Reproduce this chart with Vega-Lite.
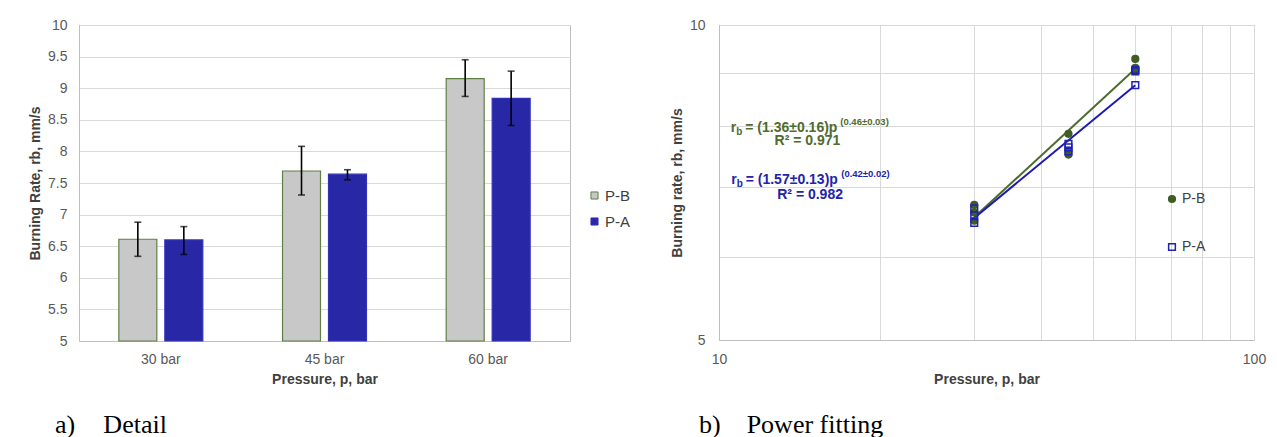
{
  "$schema": "https://vega.github.io/schema/vega-lite/v6.json",
  "background": "white",
  "padding": {"left": 28, "top": 17, "right": 0, "bottom": 0},
  "spacing": 37,
  "resolve": {
    "scale": {"fill": "independent", "stroke": "independent", "shape": "independent", "color": "independent"},
    "legend": {"fill": "independent", "stroke": "independent", "shape": "independent", "color": "independent"}
  },
  "datasets": {
    "bars": [
      {"pressure": "30 bar", "series": "P-B", "rate": 6.61, "lo": 6.34, "hi": 6.88},
      {"pressure": "30 bar", "series": "P-A", "rate": 6.60, "lo": 6.37, "hi": 6.81},
      {"pressure": "45 bar", "series": "P-B", "rate": 7.69, "lo": 7.31, "hi": 8.08},
      {"pressure": "45 bar", "series": "P-A", "rate": 7.64, "lo": 7.55, "hi": 7.71},
      {"pressure": "60 bar", "series": "P-B", "rate": 9.15, "lo": 8.87, "hi": 9.45},
      {"pressure": "60 bar", "series": "P-A", "rate": 8.84, "lo": 8.41, "hi": 9.27}
    ],
    "points": [
      {"p": 30, "rate": 6.73, "series": "P-B"},
      {"p": 30, "rate": 6.62, "series": "P-B"},
      {"p": 30, "rate": 6.50, "series": "P-B"},
      {"p": 45, "rate": 7.87, "series": "P-B"},
      {"p": 45, "rate": 7.58, "series": "P-B"},
      {"p": 45, "rate": 7.52, "series": "P-B"},
      {"p": 60, "rate": 9.28, "series": "P-B"},
      {"p": 60, "rate": 9.10, "series": "P-B"},
      {"p": 60, "rate": 9.05, "series": "P-B"},
      {"p": 30, "rate": 6.68, "series": "P-A"},
      {"p": 30, "rate": 6.58, "series": "P-A"},
      {"p": 30, "rate": 6.47, "series": "P-A"},
      {"p": 45, "rate": 7.70, "series": "P-A"},
      {"p": 45, "rate": 7.64, "series": "P-A"},
      {"p": 45, "rate": 7.57, "series": "P-A"},
      {"p": 60, "rate": 9.06, "series": "P-A"},
      {"p": 60, "rate": 9.03, "series": "P-A"},
      {"p": 60, "rate": 8.76, "series": "P-A"}
    ],
    "fits": [
      {"p": 30, "fit": 6.55, "series": "P-B"},
      {"p": 60, "fit": 9.08, "series": "P-B"},
      {"p": 30, "fit": 6.54, "series": "P-A"},
      {"p": 60, "fit": 8.76, "series": "P-A"}
    ]
  },
  "hconcat": [
    {
      "width": 491,
      "height": 316,
      "title": {"text": "a)\u00a0\u00a0\u00a0\u00a0\u200aDetail", "orient": "bottom", "anchor": "start", "frame": "group", "dx": -24, "offset": 26, "font": "Liberation Serif", "fontSize": 26, "fontWeight": "normal", "color": "#000000"},
      "data": {"name": "bars"},
      "encoding": {
        "x": {"field": "pressure", "type": "nominal", "title": "Pressure, p, bar",
              "scale": {"paddingInner": 0.487, "paddingOuter": 0.2435},
              "axis": {"labelAngle": 0, "grid": false, "labelPadding": 11, "titlePadding": 6}},
        "xOffset": {"field": "series", "type": "nominal", "scale": {"domain": ["P-B", "P-A"], "paddingInner": 0.174, "paddingOuter": 0}}
      },
      "layer": [
        {
          "mark": {"type": "bar", "strokeWidth": 1.2},
          "encoding": {
            "y": {"field": "rate", "type": "quantitative", "title": "Burning Rate, rb, mm/s",
                  "scale": {"domain": [5, 10], "zero": false, "nice": false},
                  "axis": {"values": [5, 5.5, 6, 6.5, 7, 7.5, 8, 8.5, 9, 9.5, 10], "format": "~g", "grid": true, "labelOverlap": false, "labelPadding": 12, "titlePadding": 5}},
            "y2": {"datum": 5},
            "fill": {"field": "series", "type": "nominal", "scale": {"domain": ["P-B", "P-A"], "range": ["#c8c8c8", "#2828a6"]},
                     "legend": {"title": null, "orient": "none", "legendX": 508, "legendY": 163, "symbolType": "square", "symbolSize": 50, "symbolStrokeWidth": 1, "labelFontSize": 15, "rowPadding": 10, "labelOffset": 3,
                                "encode": {"symbols": {"update": {"shape": {"value": "square"}, "stroke": {"signal": "datum.value == 'P-B' ? '#5f7f45' : '#3232b8'"}, "opacity": {"value": 1}, "fillOpacity": {"value": 1}}}}}},
            "stroke": {"field": "series", "type": "nominal", "scale": {"domain": ["P-B", "P-A"], "range": ["#5f7f45", "#3232b8"]}, "legend": null}
          }
        },
        {
          "mark": {"type": "rule", "color": "#000000", "strokeWidth": 1.6},
          "encoding": {
            "y": {"field": "lo", "type": "quantitative", "title": "Burning Rate, rb, mm/s",
                  "axis": {"values": [5, 5.5, 6, 6.5, 7, 7.5, 8, 8.5, 9, 9.5, 10], "format": "~g", "grid": true, "labelOverlap": false, "labelPadding": 12, "titlePadding": 5}},
            "y2": {"field": "hi"}
          }
        },
        {
          "mark": {"type": "tick", "color": "#000000", "thickness": 1.6, "size": 7, "orient": "horizontal"},
          "encoding": {
            "y": {"field": "hi", "type": "quantitative", "title": "Burning Rate, rb, mm/s",
                  "axis": {"values": [5, 5.5, 6, 6.5, 7, 7.5, 8, 8.5, 9, 9.5, 10], "format": "~g", "grid": true, "labelOverlap": false, "labelPadding": 12, "titlePadding": 5}}
          }
        },
        {
          "mark": {"type": "tick", "color": "#000000", "thickness": 1.6, "size": 7, "orient": "horizontal"},
          "encoding": {
            "y": {"field": "lo", "type": "quantitative", "title": "Burning Rate, rb, mm/s",
                  "axis": {"values": [5, 5.5, 6, 6.5, 7, 7.5, 8, 8.5, 9, 9.5, 10], "format": "~g", "grid": true, "labelOverlap": false, "labelPadding": 12, "titlePadding": 5}}
          }
        }
      ]
    },
    {
      "width": 535,
      "height": 315,
      "title": {"text": "b)\u00a0\u00a0\u00a0\u00a0Power fitting", "orient": "bottom", "anchor": "start", "frame": "group", "dx": -20, "offset": 26, "font": "Liberation Serif", "fontSize": 26, "fontWeight": "normal", "color": "#000000"},
      "encoding": {
        "x": {"field": "p", "type": "quantitative", "title": "Pressure, p, bar",
              "scale": {"type": "log", "domain": [10, 100], "nice": false},
              "axis": {"values": [10, 20, 30, 40, 50, 60, 70, 80, 90, 100], "labelExpr": "datum.value == 10 ? '10' : datum.value == 100 ? '100' : ''", "labelFlush": false, "labelOverlap": false, "grid": true, "labelPadding": 12, "titlePadding": 6}},
        "y": {"field": "rate", "type": "quantitative", "title": "Burning rate, rb, mm/s",
              "scale": {"type": "log", "domain": [5, 10], "nice": false},
              "axis": {"values": [5, 6, 7, 8, 9, 10], "labelExpr": "datum.value == 5 ? '5' : datum.value == 10 ? '10' : ''", "labelOverlap": false, "grid": true, "labelPadding": 14, "titlePadding": 5}}
      },
      "layer": [
        {
          "data": {"name": "fits"},
          "transform": [{"filter": "datum.series == 'P-B'"}],
          "mark": {"type": "line", "strokeWidth": 2, "color": "#4f6b2e"},
          "encoding": {
            "y": {"field": "fit", "type": "quantitative", "title": "Burning rate, rb, mm/s"}
          }
        },
        {
          "data": {"name": "fits"},
          "transform": [{"filter": "datum.series == 'P-A'"}],
          "mark": {"type": "line", "strokeWidth": 2, "color": "#1c1cb0"},
          "encoding": {
            "y": {"field": "fit", "type": "quantitative", "title": "Burning rate, rb, mm/s"}
          }
        },
        {
          "data": {"name": "points"},
          "mark": {"type": "point", "filled": false, "strokeWidth": 1.5, "size": 45, "opacity": 1},
          "encoding": {
            "fill": {"field": "series", "type": "nominal", "scale": {"domain": ["P-B", "P-A"], "range": ["#3f5e25", "transparent"]},
                     "legend": {"title": null, "orient": "none", "legendX": 446, "legendY": 167, "labelFontSize": 14, "rowPadding": 34, "symbolStrokeWidth": 1.5, "symbolSize": 45, "labelOffset": 3,
                                "encode": {"symbols": {"update": {
                                  "shape": {"signal": "datum.value == 'P-A' ? 'square' : 'circle'"},
                                  "fill": {"signal": "datum.value == 'P-B' ? '#3f5e25' : '#ffffff'"},
                                  "stroke": {"signal": "datum.value == 'P-B' ? '#3f5e25' : '#2020b4'"},
                                  "opacity": {"value": 1}, "fillOpacity": {"value": 1}, "strokeOpacity": {"value": 1}}}}}},
            "stroke": {"field": "series", "type": "nominal", "scale": {"domain": ["P-B", "P-A"], "range": ["#3f5e25", "#2020b4"]},
                       "legend": {"title": null, "orient": "none", "legendX": 446, "legendY": 167, "labelFontSize": 14, "rowPadding": 34, "symbolStrokeWidth": 1.5, "symbolSize": 45, "labelOffset": 3,
                                  "encode": {"symbols": {"update": {
                                    "shape": {"signal": "datum.value == 'P-A' ? 'square' : 'circle'"},
                                    "fill": {"signal": "datum.value == 'P-B' ? '#3f5e25' : '#ffffff'"},
                                    "stroke": {"signal": "datum.value == 'P-B' ? '#3f5e25' : '#2020b4'"},
                                    "opacity": {"value": 1}, "fillOpacity": {"value": 1}, "strokeOpacity": {"value": 1}}}}}},
            "shape": {"field": "series", "type": "nominal", "scale": {"domain": ["P-B", "P-A"], "range": ["circle", "square"]},
                      "legend": {"title": null, "orient": "none", "legendX": 446, "legendY": 167, "labelFontSize": 14, "rowPadding": 34, "symbolStrokeWidth": 1.5, "symbolSize": 45, "labelOffset": 3,
                                 "encode": {"symbols": {"update": {
                                   "shape": {"signal": "datum.value == 'P-A' ? 'square' : 'circle'"},
                                   "fill": {"signal": "datum.value == 'P-B' ? '#3f5e25' : '#ffffff'"},
                                   "stroke": {"signal": "datum.value == 'P-B' ? '#3f5e25' : '#2020b4'"},
                                   "opacity": {"value": 1}, "fillOpacity": {"value": 1}, "strokeOpacity": {"value": 1}}}}}}
          }
        },
        {
          "data": {"values": [{"px": 10.52, "py": 7.97, "label": "r"}]},
          "mark": {"type": "text", "align": "left", "baseline": "middle", "font": "Liberation Sans", "fontSize": 14, "fontWeight": "bold", "color": "#4f6b2e"},
          "encoding": {"x": {"field": "px", "type": "quantitative"}, "y": {"field": "py", "type": "quantitative"}, "text": {"field": "label"}}
        },
        {
          "data": {"values": [{"px": 10.52, "py": 7.97, "label": "b"}]},
          "mark": {"type": "text", "align": "left", "baseline": "middle", "dx": 5.5, "dy": 4, "font": "Liberation Sans", "fontSize": 10, "fontWeight": "bold", "color": "#4f6b2e"},
          "encoding": {"x": {"field": "px", "type": "quantitative"}, "y": {"field": "py", "type": "quantitative"}, "text": {"field": "label"}}
        },
        {
          "data": {"values": [{"px": 10.52, "py": 7.97, "label": "= (1.36±0.16)p"}]},
          "mark": {"type": "text", "align": "left", "baseline": "middle", "dx": 14.5, "font": "Liberation Sans", "fontSize": 14, "fontWeight": "bold", "color": "#4f6b2e"},
          "encoding": {"x": {"field": "px", "type": "quantitative"}, "y": {"field": "py", "type": "quantitative"}, "text": {"field": "label"}}
        },
        {
          "data": {"values": [{"px": 10.52, "py": 7.97, "label": "(0.46±0.03)"}]},
          "mark": {"type": "text", "align": "left", "baseline": "middle", "dx": 109.5, "dy": -6, "font": "Liberation Sans", "fontSize": 9.5, "fontWeight": "bold", "color": "#4f6b2e"},
          "encoding": {"x": {"field": "px", "type": "quantitative"}, "y": {"field": "py", "type": "quantitative"}, "text": {"field": "label"}}
        },
        {
          "data": {"values": [{"px": 14.63, "py": 7.75, "label": "R² = 0.971"}]},
          "mark": {"type": "text", "align": "center", "baseline": "middle", "font": "Liberation Sans", "fontSize": 14, "fontWeight": "bold", "color": "#4f6b2e"},
          "encoding": {"x": {"field": "px", "type": "quantitative"}, "y": {"field": "py", "type": "quantitative"}, "text": {"field": "label"}}
        },
        {
          "data": {"values": [{"px": 10.54, "py": 7.116, "label": "r"}]},
          "mark": {"type": "text", "align": "left", "baseline": "middle", "font": "Liberation Sans", "fontSize": 14, "fontWeight": "bold", "color": "#2323a8"},
          "encoding": {"x": {"field": "px", "type": "quantitative"}, "y": {"field": "py", "type": "quantitative"}, "text": {"field": "label"}}
        },
        {
          "data": {"values": [{"px": 10.54, "py": 7.116, "label": "b"}]},
          "mark": {"type": "text", "align": "left", "baseline": "middle", "dx": 5.5, "dy": 4, "font": "Liberation Sans", "fontSize": 10, "fontWeight": "bold", "color": "#2323a8"},
          "encoding": {"x": {"field": "px", "type": "quantitative"}, "y": {"field": "py", "type": "quantitative"}, "text": {"field": "label"}}
        },
        {
          "data": {"values": [{"px": 10.54, "py": 7.116, "label": "= (1.57±0.13)p"}]},
          "mark": {"type": "text", "align": "left", "baseline": "middle", "dx": 14.5, "font": "Liberation Sans", "fontSize": 14, "fontWeight": "bold", "color": "#2323a8"},
          "encoding": {"x": {"field": "px", "type": "quantitative"}, "y": {"field": "py", "type": "quantitative"}, "text": {"field": "label"}}
        },
        {
          "data": {"values": [{"px": 10.54, "py": 7.116, "label": "(0.42±0.02)"}]},
          "mark": {"type": "text", "align": "left", "baseline": "middle", "dx": 110, "dy": -6, "font": "Liberation Sans", "fontSize": 9.5, "fontWeight": "bold", "color": "#2323a8"},
          "encoding": {"x": {"field": "px", "type": "quantitative"}, "y": {"field": "py", "type": "quantitative"}, "text": {"field": "label"}}
        },
        {
          "data": {"values": [{"px": 14.80, "py": 6.88, "label": "R² = 0.982"}]},
          "mark": {"type": "text", "align": "center", "baseline": "middle", "font": "Liberation Sans", "fontSize": 14, "fontWeight": "bold", "color": "#2323a8"},
          "encoding": {"x": {"field": "px", "type": "quantitative"}, "y": {"field": "py", "type": "quantitative"}, "text": {"field": "label"}}
        }
      ]
    }
  ],
  "config": {
    "font": "Liberation Sans",
    "view": {"stroke": "#bfbfbf"},
    "axis": {"labelFont": "Liberation Sans", "labelFontSize": 14, "labelColor": "#595959", "titleFont": "Liberation Sans", "titleFontSize": 14, "titleColor": "#404040", "titleFontWeight": "bold", "domainColor": "#bfbfbf", "gridColor": "#d9d9d9", "ticks": false},
    "legend": {"labelFont": "Liberation Sans", "labelColor": "#404040"}
  }
}
